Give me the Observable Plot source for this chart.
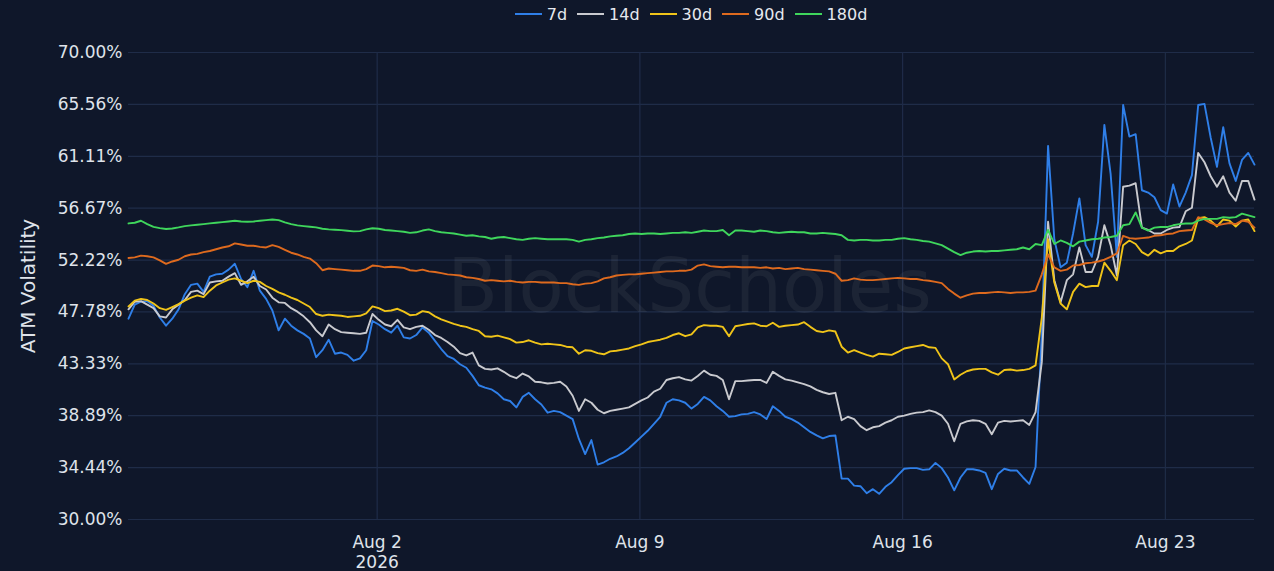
<!DOCTYPE html>
<html>
<head>
<meta charset="utf-8">
<script src="https://cdn.jsdelivr.net/npm/d3@7"></script>
<script src="https://cdn.jsdelivr.net/npm/@observablehq/plot@0.6"></script>
<style>
  html, body { margin: 0; padding: 0; background: #0f172a; }
  body { width: 1274px; height: 571px; overflow: hidden; font-family: "DejaVu Sans", sans-serif; }
  #legend { height: 28px; margin-left: 128px; width: 1126px; display: flex; justify-content: center; align-items: center; color: #e6e9ef; font-size: 16px; }
  .item { display: flex; align-items: center; margin: 0 5px; }
  .swatch { width: 27px; height: 2px; margin-right: 5px; }
  #chart svg { display: block; }
</style>
</head>
<body>
<div id="legend"></div>
<div id="chart"></div>
<script>
// Series names and colours
const seriesNames = ["7d", "14d", "30d", "90d", "180d"];
const seriesColors = ["#2f7fe8", "#c9cacf", "#f0c419", "#de6a1e", "#3fd65c"];

// Time axis: 4-hour samples from 2026-07-26 09:00 UTC
const startTime = Date.UTC(2026, 6, 26, 9);
const stepHours = 4;

// Tick labels
const yTicks = [30.00, 34.44, 38.89, 43.33, 47.78, 52.22, 56.67, 61.11, 65.56, 70.00];
const xTickDates = ["2026-08-02", "2026-08-09", "2026-08-16", "2026-08-23"];
const xTickLabels = ["Aug 2\n2026", "Aug 9", "Aug 16", "Aug 23"];

// ATM volatility (%) per tenor
const vol7d = [
  47.2, 48.4, 48.65, 48.7, 48.3, 47.3, 46.6, 47.2, 48.0, 49.3,
  50.1, 50.2, 49.5, 50.8, 51.0, 51.05, 51.4, 51.9, 50.6, 49.9,
  51.3, 49.6, 48.9, 47.9, 46.2, 47.2, 46.6, 46.2, 45.9, 45.5,
  43.9, 44.5, 45.4, 44.2, 44.3, 44.1, 43.6, 43.8, 44.5, 47.0,
  46.7, 46.3, 46.0, 46.6, 45.6, 45.5, 45.8, 46.45, 46.0, 45.3,
  44.6, 44.0, 43.75, 43.3, 43.0, 42.3, 41.5, 41.3, 41.15, 40.8,
  40.3, 40.15, 39.6, 40.5, 40.85, 40.3, 39.85, 39.15, 39.3, 39.2,
  38.9, 38.6, 36.9, 35.6, 36.8, 34.7, 34.9, 35.2, 35.4, 35.7,
  36.1, 36.6, 37.1, 37.6, 38.2, 38.8, 40.0, 40.3, 40.2, 40.0,
  39.5, 39.9, 40.5, 40.2, 39.7, 39.3, 38.8, 38.85, 39.0, 39.05,
  39.2, 39.0, 38.6, 39.7, 39.3, 38.8, 38.6, 38.3, 37.9, 37.5,
  37.2, 36.95, 37.15, 37.2, 33.5, 33.5, 32.9, 32.85, 32.25, 32.6,
  32.2, 32.8, 33.2, 33.8, 34.35, 34.4, 34.4, 34.25, 34.3, 34.85,
  34.4, 33.6, 32.5, 33.6, 34.3, 34.3, 34.2, 34.0, 32.6, 33.9,
  34.35, 34.2, 34.2, 33.6, 33.05, 34.5, 46.0, 62.0, 54.0, 51.6,
  52.0, 54.5, 57.5, 53.5, 52.5, 55.5, 63.8, 59.6, 52.5, 65.5,
  62.8, 63.0, 58.2, 58.0, 57.6, 56.5, 56.2, 58.7, 56.8, 58.0,
  59.5, 65.5, 65.6, 62.7, 60.2, 63.6, 60.5, 59.0, 60.8, 61.4, 60.4
];
const vol14d = [
  48.0, 48.65, 48.7, 48.4, 48.1, 47.4, 47.3, 48.0, 48.4, 48.8,
  49.5, 49.6, 49.3, 50.3, 50.4, 50.45, 50.8, 51.1, 50.1, 50.4,
  50.8, 50.0, 49.7, 49.0, 48.6, 48.55, 48.1, 47.8, 47.4, 46.9,
  46.2, 45.7, 46.7, 46.3, 46.05, 46.0, 45.95, 45.9, 46.0, 47.6,
  47.1, 46.7, 46.55, 47.1, 46.45, 46.3, 46.5, 46.6, 46.25, 45.8,
  45.55, 45.2, 44.8, 44.25, 44.05, 44.3, 43.2, 42.9, 42.85, 42.95,
  42.65, 42.3, 42.1, 42.5, 42.25, 41.8, 41.75, 41.65, 41.7, 41.8,
  41.4, 40.6, 39.3, 40.3, 40.0, 39.4, 39.1, 39.3, 39.4, 39.5,
  39.6, 39.9, 40.2, 40.45, 40.95, 41.2, 41.95, 42.1, 42.2, 42.0,
  41.9, 42.3, 42.75, 42.4, 42.3, 41.95, 40.3, 41.85, 41.85, 41.9,
  41.95, 41.95, 41.7, 42.65, 42.3, 42.0, 41.9, 41.75, 41.6, 41.4,
  41.1, 40.9, 40.75, 40.85, 38.5, 38.8, 38.6, 38.0, 37.65, 37.9,
  38.0, 38.3, 38.5, 38.8, 38.9, 39.05, 39.15, 39.2, 39.35, 39.2,
  38.9, 38.2, 36.7, 38.2, 38.4, 38.5, 38.45, 38.2, 37.3, 38.3,
  38.45, 38.4, 38.45, 38.5, 38.1, 39.2, 43.5, 55.5, 50.5, 48.6,
  50.5, 51.0, 53.3, 51.2, 51.2, 52.5, 55.2, 53.5, 50.9, 58.5,
  58.6, 58.8, 55.0, 54.8, 54.5, 54.5, 54.8, 55.0, 55.05, 56.4,
  56.7, 61.4, 60.6, 59.4, 58.5, 59.4, 58.0, 57.3, 59.0, 59.0, 57.4
];
const vol30d = [
  48.25, 48.75, 48.9, 48.8, 48.5, 48.1, 47.95, 48.2, 48.45, 48.75,
  49.0, 49.2, 49.05, 49.6, 50.05, 50.3, 50.55, 50.65, 50.45, 50.25,
  50.45, 50.35, 50.0, 49.75, 49.45, 49.25, 49.0, 48.8, 48.5, 48.2,
  47.6, 47.45, 47.55, 47.5, 47.45, 47.35, 47.4, 47.45, 47.65, 48.25,
  48.1, 47.85, 47.9, 48.05, 47.8, 47.5, 47.55, 47.85, 47.75, 47.4,
  47.15, 46.95, 46.75, 46.6, 46.5, 46.3, 46.15, 45.7, 45.65, 45.75,
  45.6, 45.45, 45.15, 45.2, 45.35, 45.15, 45.0, 45.05, 45.0, 44.95,
  44.8, 44.75, 44.2, 44.5, 44.45, 44.25, 44.15, 44.4, 44.45, 44.55,
  44.65, 44.85, 45.0, 45.2, 45.3, 45.4, 45.55, 45.8, 45.95, 45.7,
  45.85, 46.45, 46.65, 46.6, 46.6, 46.5, 45.7, 46.55, 46.65, 46.75,
  46.8, 46.6, 46.55, 46.85, 46.5, 46.6, 46.65, 46.7, 46.9, 46.5,
  46.15, 46.05, 46.2, 46.1, 44.8, 44.3, 44.5, 44.3, 44.1, 43.95,
  44.2, 44.15, 44.1, 44.35, 44.65, 44.75, 44.85, 44.95, 44.75, 44.7,
  43.8, 43.3, 42.0, 42.4, 42.7, 42.85, 42.9, 42.9, 42.6, 42.4,
  42.8, 42.85, 42.75, 42.8, 42.9, 43.2, 47.3, 54.0, 50.3, 48.5,
  48.0, 49.5, 50.2, 49.9, 50.0, 50.0, 52.0, 51.3, 50.5, 53.5,
  53.9, 53.6, 52.9, 52.6, 53.1, 52.8, 53.0, 53.0, 53.4, 53.6,
  53.9, 55.8, 55.9, 55.6, 55.1, 55.7, 55.6, 55.1, 55.6, 55.7, 54.7
];
const vol90d = [
  52.4, 52.45, 52.6, 52.55, 52.45, 52.2, 51.9, 52.1, 52.25, 52.55,
  52.7, 52.75, 52.9, 53.0, 53.15, 53.3, 53.4, 53.65, 53.55, 53.45,
  53.45, 53.35, 53.3, 53.5, 53.35, 53.1, 52.85, 52.7, 52.5, 52.35,
  51.95, 51.35, 51.5, 51.45, 51.4, 51.35, 51.3, 51.3, 51.45, 51.75,
  51.7, 51.6, 51.65, 51.6, 51.55, 51.35, 51.3, 51.4, 51.25, 51.2,
  51.1, 51.0, 50.95, 50.9, 50.75, 50.7, 50.6, 50.45, 50.5, 50.45,
  50.4, 50.45, 50.35, 50.3, 50.35, 50.35, 50.3, 50.3, 50.3, 50.25,
  50.25, 50.15, 50.1, 50.2, 50.25, 50.4, 50.65, 50.75, 50.9, 50.95,
  51.0, 51.0, 51.05, 51.1, 51.15, 51.2, 51.25, 51.25, 51.3, 51.3,
  51.4, 51.75, 51.85, 51.7, 51.65, 51.6, 51.65, 51.65, 51.6, 51.6,
  51.6, 51.55, 51.6, 51.5, 51.55, 51.45, 51.5, 51.55, 51.45, 51.4,
  51.35, 51.3, 51.25, 51.05, 50.45, 50.5, 50.65, 50.55, 50.5, 50.5,
  50.55, 50.6, 50.65, 50.7, 50.65, 50.6, 50.6, 50.5, 50.45, 50.35,
  50.25, 49.75, 49.35, 49.0, 49.2, 49.35, 49.4, 49.4, 49.45, 49.5,
  49.45, 49.4, 49.45, 49.45, 49.5, 49.6, 51.0, 52.7, 51.6, 51.3,
  51.4, 51.75, 51.8, 51.95, 52.0, 52.1, 52.25, 52.5, 52.8, 54.3,
  54.1, 54.05, 54.1, 54.15, 54.3, 54.35, 54.45, 54.5, 54.7, 54.75,
  54.8, 55.9, 55.7, 55.4, 55.2, 55.3, 55.4, 55.3, 55.6, 55.5, 55.0
];
const vol180d = [
  55.36, 55.42, 55.59, 55.3, 55.07, 54.96, 54.88, 54.93, 55.02, 55.13,
  55.19, 55.25, 55.3, 55.36, 55.42, 55.47, 55.53, 55.59, 55.53, 55.5,
  55.53, 55.59, 55.64, 55.7, 55.64, 55.45, 55.3, 55.19, 55.13, 55.07,
  55.02, 54.9, 54.85, 54.82, 54.79, 54.73, 54.68, 54.7, 54.85, 54.95,
  54.9, 54.8, 54.75, 54.7, 54.65, 54.55, 54.6, 54.75, 54.85, 54.7,
  54.6, 54.55, 54.5, 54.4, 54.3, 54.35, 54.25, 54.2, 54.05, 54.15,
  54.2, 54.1, 54.0, 53.95, 54.05, 54.1, 54.05, 54.0, 54.0, 54.0,
  54.0, 53.95, 53.8, 53.95, 54.0, 54.1, 54.15, 54.25, 54.3, 54.35,
  54.45, 54.5, 54.45, 54.5, 54.5, 54.45, 54.5, 54.55, 54.55, 54.6,
  54.55, 54.65, 54.75, 54.7, 54.7, 54.8, 54.35, 54.75, 54.75, 54.7,
  54.65, 54.75, 54.7, 54.6, 54.55, 54.6, 54.65, 54.6, 54.6, 54.5,
  54.5, 54.55, 54.5, 54.45, 54.35, 53.95, 53.9, 53.95, 53.95, 53.9,
  53.9, 53.95, 53.95, 54.05, 54.1, 54.0, 53.95, 53.85, 53.8, 53.65,
  53.5, 53.2, 52.9, 52.65, 52.85, 52.95, 53.0, 52.95, 53.0, 53.0,
  53.05, 53.1, 53.15, 53.3, 53.15, 53.6, 53.5, 54.8, 53.6, 53.9,
  53.7, 53.4, 53.8, 53.9, 54.0, 54.05, 54.15, 54.2, 54.3, 55.2,
  55.3, 56.3, 55.0, 54.75, 55.0, 55.05, 55.05, 55.2, 55.3, 55.35,
  55.35, 55.6, 55.75, 55.75, 55.75, 55.9, 55.85, 55.9, 56.2, 56.05, 55.9
];

const seriesValues = [vol7d, vol14d, vol30d, vol90d, vol180d];

// Build a long table for Plot
const rows = [];
seriesNames.forEach((name, k) => {
  seriesValues[k].forEach((v, i) => {
    rows.push({ t: new Date(startTime + i * stepHours * 3600e3), v, s: name });
  });
});
const nPts = Math.max(...seriesValues.map(a => a.length));
const endTime = startTime + (nPts - 1) * stepHours * 3600e3;
const xTicks = xTickDates.map(d => new Date(d + "T00:00:00Z"));
const labelFor = new Map(xTicks.map((d, i) => [+d, xTickLabels[i]]));

// Legend (HTML, above the SVG)
const legend = document.getElementById("legend");
seriesNames.forEach((name, k) => {
  const it = document.createElement("div");
  it.className = "item";
  const sw = document.createElement("span");
  sw.className = "swatch";
  sw.style.background = seriesColors[k];
  const tx = document.createElement("span");
  tx.textContent = name;
  it.appendChild(sw); it.appendChild(tx);
  legend.appendChild(it);
});

const gridColor = "#1f2c48";
const textColor = "#dfe3ea";

const chart = Plot.plot({
  width: 1274,
  height: 543,
  marginTop: 24,
  marginBottom: 52,
  marginLeft: 128,
  marginRight: 20,
  style: { background: "#0f172a", color: textColor, fontFamily: "DejaVu Sans, sans-serif", fontSize: "17px" },
  x: { type: "utc", domain: [new Date(startTime), new Date(endTime)] },
  y: { domain: [30, 70] },
  color: { domain: seriesNames, range: seriesColors },
  marks: [
    Plot.gridY(yTicks, { stroke: gridColor, strokeOpacity: 1, strokeWidth: 1.2 }),
    Plot.gridX(xTicks, { stroke: gridColor, strokeOpacity: 1, strokeWidth: 1.2 }),
    Plot.text(["BlockScholes"], { frameAnchor: "middle", text: d => d, fontSize: 74, fill: "#d8cfc0", fillOpacity: 0.07, dx: -2, dy: 2 }),
    Plot.line(rows, { x: "t", y: "v", z: "s", stroke: "s", strokeWidth: 1.9, curve: "linear" }),
    Plot.axisY(yTicks, { tickSize: 0, tickPadding: 6, tickFormat: d => d.toFixed(2) + "%", label: null, fontSize: 17, fill: textColor }),
    Plot.axisX(xTicks, { tickSize: 0, tickPadding: 14, tickFormat: d => labelFor.get(+d), label: null, fontSize: 17, lineHeight: 1.18, fill: textColor }),
    Plot.text(["ATM Volatility"], { frameAnchor: "left", textAnchor: "middle", text: d => d, dx: -100, rotate: -90, fontSize: 20, fill: textColor })
  ]
});
document.getElementById("chart").appendChild(chart);
</script>
</body>
</html>
